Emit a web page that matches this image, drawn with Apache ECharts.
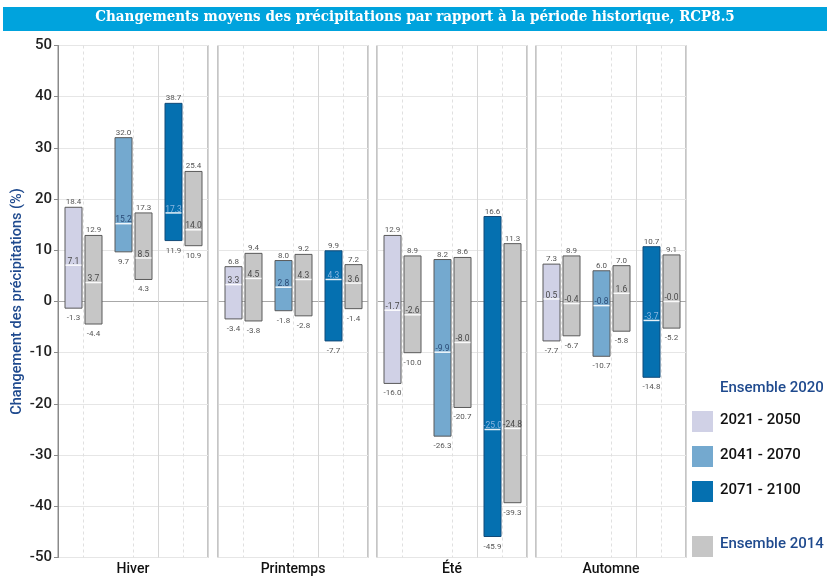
<!DOCTYPE html>
<html>
<head>
<meta charset="utf-8">
<script src="https://cdn.jsdelivr.net/npm/echarts@6/dist/echarts.min.js"></script>
<style>
  html, body { margin: 0; padding: 0; background: #fff; }
  #chart { width: 830px; height: 578px; }
</style>
</head>
<body>
<div id="chart"></div>
<script>
// Seasons (one panel each) and projection periods (one group per panel)
const seasons = ['Hiver', 'Printemps', 'Été', 'Automne'];
const periods = ['2021 - 2050', '2041 - 2070', '2071 - 2100'];

// Ensemble 2020: max / median / min change (%) per season, per period
const ens2020Max = [[18.4, 32.0, 38.7], [6.8, 8.0, 9.9], [12.9, 8.2, 16.6], [7.3, 6.0, 10.7]];
const ens2020Med = [[7.1, 15.2, 17.3], [3.3, 2.8, 4.3], [-1.7, -9.9, -25.0], [0.5, -0.8, -3.7]];
const ens2020Min = [[-1.3, 9.7, 11.9], [-3.4, -1.8, -7.7], [-16.0, -26.3, -45.9], [-7.7, -10.7, -14.8]];

// Ensemble 2014: max / median / min change (%) per season, per period
const ens2014Max = [[12.9, 17.3, 25.4], [9.4, 9.2, 7.2], [8.9, 8.6, 11.3], [8.9, 7.0, 9.1]];
const ens2014Med = [[3.7, 8.5, 14.0], [4.5, 4.3, 3.6], [-2.6, -8.0, -24.8], [-0.4, 1.6, -0.0]];
const ens2014Min = [[-4.4, 4.3, 10.9], [-3.8, -2.8, -1.4], [-10.0, -20.7, -39.3], [-6.7, -5.8, -5.2]];

const yTicks = [-50, -40, -30, -20, -10, 0, 10, 20, 30, 40, 50];

const periodColors = ['#d0d1e6', '#74a9cf', '#0570b0'];
const grayColor = '#c6c6c6';
const navy = '#1f4a8e';

const fmt = v => (Object.is(v, -0) ? '-0.0' : v.toFixed(1));

const panelLeft = [58, 218, 377, 536];
const panelWidth = 150;
const gridTop = 45.5;
const gridHeight = 512;

function renderRange(params, api) {
  const p = api.value(0);
  const ens = api.value(1);
  const lo = api.value(2), md = api.value(3), hi = api.value(4);
  const band = api.size([1, 0])[0];
  const cx = api.coord([p, 0])[0];
  const bw = band * 0.34;
  const x0 = ens === 0 ? cx - band * 0.36 : cx + band * 0.04;
  const yHi = api.coord([p, hi])[1];
  const yLo = api.coord([p, lo])[1];
  const yMd = api.coord([p, md])[1];
  const fill = ens === 0 ? periodColors[p] : grayColor;
  const dark = ens === 0 && p === 2;
  const medColor = dark ? '#8ab6e0' : (ens === 0 && p === 1 ? '#2c4d78' : '#4a4a4a');
  const tx = x0 + bw / 2;
  const small = { fontSize: 8, fontFamily: 'Roboto, "Liberation Sans", sans-serif', fill: '#555', align: 'center', verticalAlign: 'middle' };
  return {
    type: 'group',
    children: [
      { type: 'rect', shape: { x: x0, y: yHi, width: bw, height: yLo - yHi },
        style: { fill: fill, stroke: dark ? '#124a78' : '#5a5a5a', lineWidth: 1 } },
      { type: 'line', shape: { x1: x0 + 0.5, y1: yMd, x2: x0 + bw - 0.5, y2: yMd },
        style: { stroke: '#ffffff', lineWidth: 1.5, opacity: 0.9 } },
      { type: 'text', style: Object.assign({}, small, { text: fmt(hi), x: tx, y: yHi - 5 }) },
      { type: 'text', style: Object.assign({}, small, { text: fmt(lo), x: tx, y: yLo + 10 }) },
      { type: 'text', style: Object.assign({}, small, { text: fmt(md), x: tx, y: yMd - 3.5, fill: medColor, fontSize: 8.5 }) }
    ]
  };
}

function renderCenterLine(params, api) {
  const p = api.value(0);
  const cx = Math.round(api.coord([p, 0])[0]) + 0.5;
  const cs = params.coordSys;
  return {
    type: 'line',
    shape: { x1: cx, y1: cs.y, x2: cx, y2: cs.y + cs.height },
    style: { stroke: '#e0e0e0', lineWidth: 1, lineDash: [3, 3] },
    silent: true
  };
}

const grids = [], xAxes = [], yAxes = [], series = [];
seasons.forEach((season, s) => {
  grids.push({
    left: panelLeft[s], top: gridTop, width: panelWidth, height: gridHeight,
    outerBoundsMode: 'none', containLabel: false,
    show: true, borderColor: '#8a8a8a', borderWidth: 1, backgroundColor: 'transparent'
  });
  xAxes.push({
    type: 'category', gridIndex: s, data: periods,
    axisLine: { show: false }, axisTick: { show: false }, axisLabel: { show: false },
    splitLine: { show: true, lineStyle: { color: '#d6d6d6', width: 1 } },
    name: season, nameLocation: 'middle', nameGap: 5,
    nameTextStyle: { fontSize: 14, fontWeight: 500, color: '#111', fontFamily: 'Roboto, sans-serif' }
  });
  const splitColors = yTicks.map(v => (v === 0 ? '#a8a8a8' : '#e6e6e6'));
  yAxes.push({
    type: 'value', gridIndex: s, min: -50, max: 50, interval: 10,
    axisLine: { show: s === 0, lineStyle: { color: '#8a8a8a' } },
    axisTick: { show: s === 0, length: 4, lineStyle: { color: '#8a8a8a' } },
    axisLabel: { show: s === 0, fontSize: 15, fontWeight: 500, color: '#222', margin: 6,
      fontFamily: 'Roboto, sans-serif', formatter: v => String(v) },
    splitLine: { show: true, lineStyle: { color: splitColors, width: 1 } },
    name: s === 0 ? 'Changement des précipitations (%)' : '',
    nameLocation: 'middle', nameGap: 33,
    nameTextStyle: { fontSize: 14.5, color: navy, fontWeight: 500, fontFamily: 'Roboto, sans-serif' }
  });
  series.push({
    type: 'custom', xAxisIndex: s, yAxisIndex: s, silent: true, z: 1,
    renderItem: renderCenterLine,
    data: periods.map((_, p) => [p, 0])
  });
  const items = [];
  periods.forEach((_, p) => {
    items.push([p, 0, ens2020Min[s][p], ens2020Med[s][p], ens2020Max[s][p]]);
    items.push([p, 1, ens2014Min[s][p], ens2014Med[s][p], ens2014Max[s][p]]);
  });
  series.push({
    type: 'custom', xAxisIndex: s, yAxisIndex: s, silent: true, z: 3,
    renderItem: renderRange,
    encode: { x: 0, y: [2, 3, 4] },
    data: items
  });
});

// Legend built from the period colours
const legendFont = 'Roboto, sans-serif';
const legendItems = [
  { type: 'text', left: 720, top: 381, style: { text: 'Ensemble 2020', font: '500 15px ' + legendFont, fill: navy } }
];
periods.forEach((label, p) => {
  const y = 411 + p * 35;
  legendItems.push({ type: 'rect', left: 692, top: y, shape: { width: 21, height: 21 }, style: { fill: periodColors[p] } });
  legendItems.push({ type: 'text', left: 720, top: y + 2, style: { text: label, font: '500 15px ' + legendFont, fill: '#111' } });
});
legendItems.push({ type: 'rect', left: 692, top: 536, shape: { width: 21, height: 21 }, style: { fill: grayColor } });
legendItems.push({ type: 'text', left: 720, top: 537, style: { text: 'Ensemble 2014', font: '500 15px ' + legendFont, fill: navy } });

const chart = echarts.init(document.getElementById('chart'), null, { renderer: 'canvas' });
chart.setOption({
  animation: false,
  backgroundColor: '#ffffff',
  graphic: [
    { type: 'rect', left: 3, top: 7, shape: { width: 824, height: 24 }, style: { fill: '#00a3dd' }, z: 0 },
    { type: 'text', left: 'center', top: 10,
      style: { text: 'Changements moyens des précipitations par rapport à la période historique, RCP8.5',
        font: 'bold 15px "DejaVu Serif Condensed", "Liberation Serif", serif', fill: '#ffffff' }, z: 1 }
  ].concat(legendItems),
  grid: grids,
  xAxis: xAxes,
  yAxis: yAxes,
  series: series
});
</script>
</body>
</html>
